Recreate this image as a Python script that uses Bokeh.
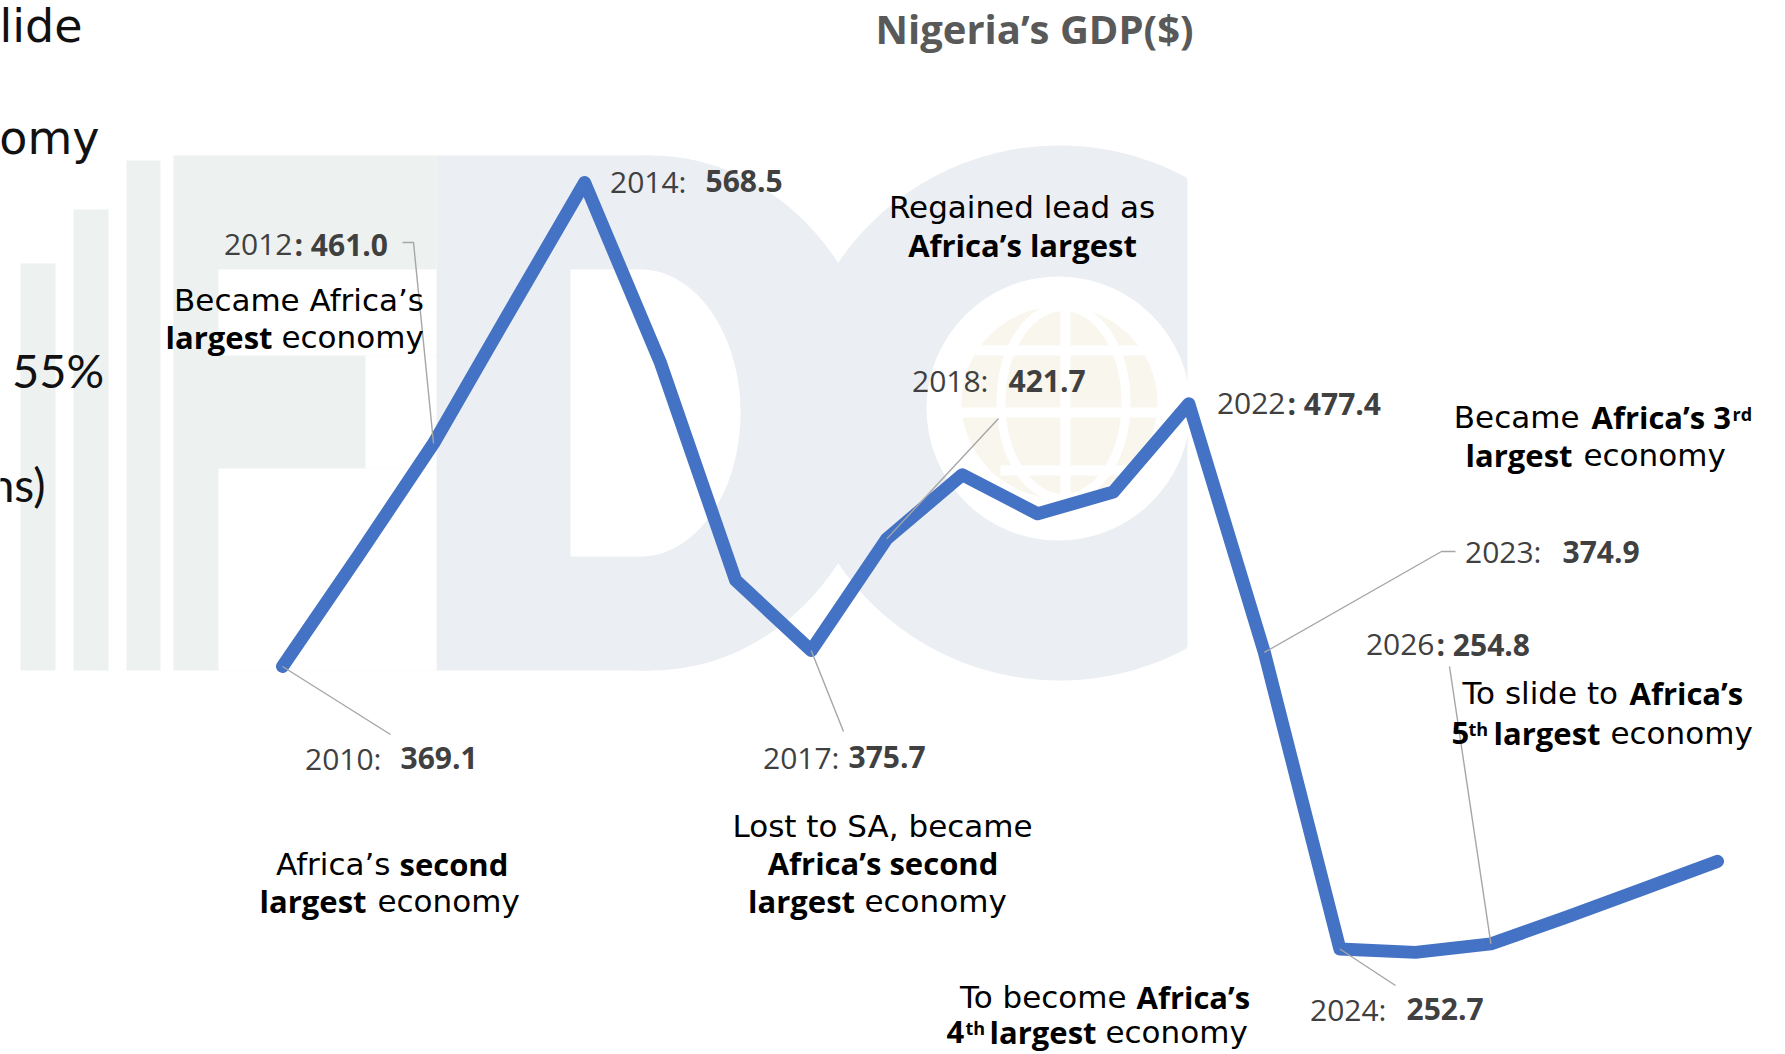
import numpy as np
from bokeh.plotting import figure
from bokeh.models import Range1d
from bokeh.core.properties import value
from bokeh.embed import file_html
from bokeh.resources import INLINE

# ---------------- data ----------------
years = list(range(2010, 2030))
gdp = [369.1, 414.6, 461.0, 515.0, 568.5, 494.6, 404.6, 375.7, 421.7, 448.1,
       432.0, 441.0, 477.4, 374.9, 252.7, 251.3, 254.8, 265.8, 277.3, 288.8]
label_years = [2010, 2012, 2014, 2017, 2018, 2022, 2023, 2024, 2026]
title_text = "Nigeria\u2019s GDP($)"

# ---------------- layout ----------------
W, H = 1785, 1054
p = figure(width=W, height=H, output_backend="svg", toolbar_location=None,
           x_range=Range1d(0, W), y_range=Range1d(H, 0),
           x_axis_type=None, y_axis_type=None, min_border=0,
           min_border_left=0, min_border_right=0, min_border_top=0, min_border_bottom=0)
p.outline_line_color = None
p.background_fill_color = "white"
p.border_fill_color = "white"
p.grid.visible = False

# data ranges mapped onto the canvas
X_FIRST, X_LAST = 282.0, 1717.0
Y_FIRST, Y_PEAK = 666.0, 182.1
kx = (X_LAST - X_FIRST) / (years[-1] - years[0])
ky = (Y_FIRST - Y_PEAK) / (max(gdp) - gdp[0])
p.extra_x_ranges = {"yr": Range1d(years[0] - X_FIRST / kx,
                                  years[-1] + (W - X_LAST) / kx)}
p.extra_y_ranges = {"gdp": Range1d(gdp[0] - (H - Y_FIRST) / ky,
                                   gdp[0] + Y_FIRST / ky)}

def px(yr):
    return X_FIRST + (yr - years[0]) * kx

def py(v):
    return Y_FIRST - (v - gdp[0]) * ky

# ---------------- watermark (FDC logo) ----------------
GF = "#edf2f1"
GD = "#ebeef2"
p.quad(left=[20, 73, 126], right=[55, 108, 160], top=[263, 209, 160],
       bottom=[670, 670, 670], fill_color=GF, line_color=None)
p.quad(left=[173], right=[436], top=[155], bottom=[670], fill_color=GF, line_color=None)
p.quad(left=[436], right=[650], top=[155], bottom=[670], fill_color=GD, line_color=None)
p.ellipse(x=[650], y=[412.5], width=[462], height=[515], fill_color=GD, line_color=None)
t = np.linspace(0, 2 * np.pi, 240)
cx_, cy_ = 1059 + 267.5 * np.cos(t), 412.5 + 267.5 * np.sin(t)
cx_ = np.minimum(cx_, 1187)
p.patch(cx_, cy_, fill_color=GD, line_color=None)
# white cut-outs
p.quad(left=[218, 365, 218], right=[436, 436, 436], top=[269, 355, 468],
       bottom=[355, 468, 670], fill_color="white", line_color=None)
a = np.linspace(-np.pi / 2, np.pi / 2, 80)
dx = list(640 + 100 * np.cos(a))
dy = list(412.5 + 143.5 * np.sin(a))
p.patch([570] + dx + [570], [269] + dy + [556], fill_color="white", line_color=None)
p.ellipse(x=[1058], y=[408], width=[264], height=[264], fill_color="white", line_color=None)
# globe
p.ellipse(x=[1059], y=[402], width=[196], height=[192], fill_color="#f8f6ed", line_color=None)
p.ellipse(x=[1063], y=[402], width=[125], height=[192], fill_color=None,
          line_color="white", line_width=9)
p.segment(x0=[1065, 960, 975, 1000], y0=[306, 412, 350, 470],
          x1=[1065, 1158, 1145, 1125], y1=[498, 412, 350, 470],
          line_color="white", line_width=10)

# ---------------- data line ----------------
p.line(years, gdp, x_range_name="yr", y_range_name="gdp", line_width=13,
       line_color="#4472C4", line_cap="round", line_join="round")

# ---------------- leader lines ----------------
leaders = {
    2010: [(390, 734)],
    2012: [(413, 242), (402, 242)],
    2017: [(843, 731)],
    2018: [(998, 418)],
    2023: [(1441, 551), (1455, 551)],
    2024: [(1395, 985)],
    2026: [(1449, 666)],
}
for yr, pts in leaders.items():
    v = gdp[years.index(yr)]
    xs = [px(yr)] + [q[0] for q in pts]
    ys = [py(v)] + [q[1] for q in pts]
    p.line(xs, ys, line_color="#a6a6a6", line_width=1.4)

# ---------------- text helpers ----------------
BASE_SHIFT = 0.41  # em; compensates the renderer's baseline placement

def txt(x, y, s, font="DejaVu Sans", size=31, bold=False, align="left", color="black"):
    p.text(x=[x], y=[y - BASE_SHIFT * size], text=[s], text_font=value(font),
           text_font_size=f"{size}px",
           text_font_style="bold" if bold else "normal", text_align=align,
           text_baseline="alphabetic", text_color=color)

RF = "DejaVu Sans"
BF = "Open Sans"

# title
txt(1034, 44, title_text, font=BF, size=40, bold=True, align="center", color="#595959")

# slide text cut at the left edge
for s, xr, yb in [("lide", 82, 44), ("omy", 99, 156)]:
    txt(xr, yb, s, font=RF, size=46, align="right", color="#111111")
txt(45, 503, "ns)", font="Lato", size=46, align="right", color="#111111")
txt(11.5, 389, "55%", font="Lato", size=47, color="#111111")

# data labels: (year, right edge of year part, left edge of value part, baseline, bold colon)
label_pos = {
    2010: (381, 400, 770, False),
    2012: (292, 294, 256, True),
    2014: (686, 705, 193, False),
    2017: (839, 848, 769, False),
    2018: (988, 1008, 392.5, False),
    2022: (1285, 1287, 415, True),
    2023: (1541, 1562, 563.5, False),
    2024: (1386, 1406, 1021, False),
    2026: (1434, 1436, 656, True),
}
LC = "#404040"
for yr in label_years:
    v = gdp[years.index(yr)]
    xr, xl, yb, bc = label_pos[yr]
    if bc:
        txt(xr, yb, f"{yr}", font=BF, size=30, align="right", color=LC)
        txt(xl, yb, f": {v:.1f}", font=BF, size=30, bold=True, color=LC)
    else:
        txt(xr, yb, f"{yr}:", font=BF, size=30, align="right", color=LC)
        txt(xl, yb, f"{v:.1f}", font=BF, size=30, bold=True, color=LC)

# annotation notes
A = "Africa\u2019s"
# a) 2012
txt(298.5, 312, f"Became {A}", align="center")
txt(272, 349.5, "largest", font=BF, bold=True, align="right")
txt(281, 349.5, "economy")
# b) 2018
txt(1021.5, 219, "Regained lead as", align="center")
txt(1022, 257, f"{A} largest", font=BF, bold=True, align="center")
# c) 2023
txt(1579, 429, "Became", align="right")
txt(1591, 429, f"{A} 3", font=BF, bold=True)
txt(1732, 421, "rd", font=BF, size=18, bold=True)
txt(1572, 467, "largest", font=BF, bold=True, align="right")
txt(1583, 467, "economy")
# d) 2010
txt(390, 876, A, align="right")
txt(399, 876, "second", font=BF, bold=True)
txt(366, 913, "largest", font=BF, bold=True, align="right")
txt(377, 913, "economy")
# e) 2017
txt(882, 838.5, "Lost to SA, became", align="center")
txt(882.5, 875, f"{A} second", font=BF, bold=True, align="center")
txt(854.5, 913, "largest", font=BF, bold=True, align="right")
txt(864, 913, "economy")
# f) 2024
txt(1126, 1009.5, "To become", align="right")
txt(1136, 1009.5, A, font=BF, bold=True)
txt(946, 1044, "4", font=BF, bold=True)
txt(965, 1035, "th", font=BF, size=18, bold=True)
txt(1096, 1044, "largest", font=BF, bold=True, align="right")
txt(1105, 1044, "economy")
# g) 2026
txt(1617.5, 705.5, "To slide to", align="right")
txt(1629, 705.5, A, font=BF, bold=True)
txt(1451, 745, "5", font=BF, bold=True)
txt(1468, 736, "th", font=BF, size=18, bold=True)
txt(1600, 745, "largest", font=BF, bold=True, align="right")
txt(1610, 745, "economy")

open("out.html", "w").write(file_html(p, INLINE))
